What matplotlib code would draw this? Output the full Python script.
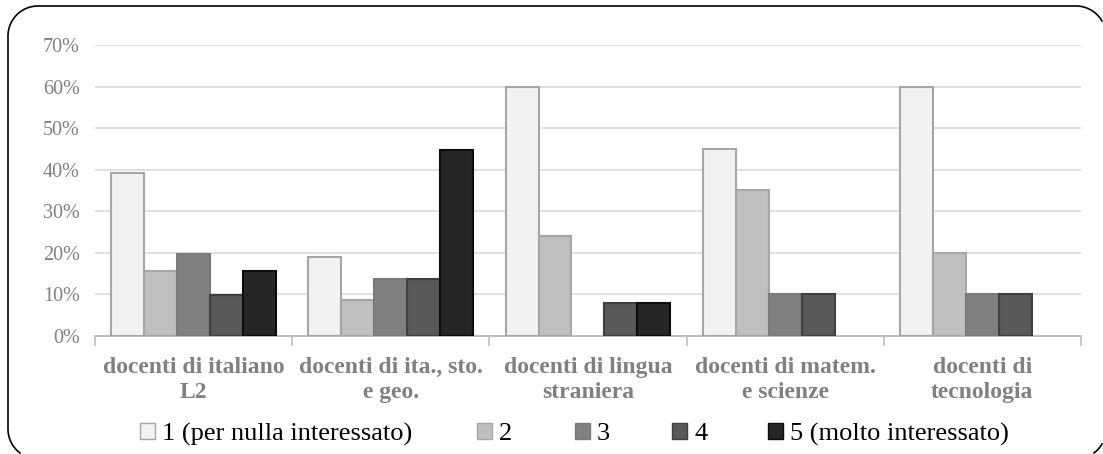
import numpy as np
import matplotlib.pyplot as plt
from matplotlib.lines import Line2D
from matplotlib.ticker import PercentFormatter

categories = ["docenti di italiano\nL2", "docenti di ita., sto.\ne geo.",
              "docenti di lingua\nstraniera", "docenti di matem.\ne scienze",
              "docenti di\ntecnologia"]
series = ["1 (per nulla interessato)", "2", "3", "4", "5 (molto interessato)"]
s1 = [39.2, 19.0, 60.0, 45.0, 60.0]
s2 = [15.7, 8.6, 24.0, 35.0, 20.0]
s3 = [19.6, 13.8, 0.0, 10.0, 10.0]
s4 = [9.8, 13.8, 8.0, 10.0, 10.0]
s5 = [15.7, 44.8, 8.0, 0.0, 0.0]
values = [s1, s2, s3, s4, s5]

fills = ["#f2f2f2", "#bfbfbf", "#808080", "#595959", "#262626"]
edges = ["#a6a6a6", "#a6a6a6", "#7a7a7a", "#3f3f3f", "#0d0d0d"]

plt.rcParams['font.family'] = ['Liberation Serif', 'DejaVu Serif']

W, H = 1103, 454
fig = plt.figure(figsize=(W / 100, H / 100), dpi=100)
ax = fig.add_axes([0.0861, 0.26, 0.8939, 0.641])

x = np.arange(len(categories))
w = 0.167
for i, vals in enumerate(values):
    v = np.array(vals) / 100
    lw = [1.5 if val > 0 else 0 for val in vals]
    ax.bar(x + (i - 2) * w, v, width=w, color=fills[i], edgecolor=edges[i],
           linewidth=lw, label=series[i], zorder=3)

ax.set_xlim(-0.5, len(categories) - 0.5)
ax.set_ylim(0, 0.7)
ax.set_yticks(np.arange(0, 0.71, 0.1))
ax.yaxis.set_major_formatter(PercentFormatter(1.0, decimals=0))
ax.grid(axis='y', color='#d9d9d9', linewidth=1.2, zorder=0)
ax.tick_params(axis='y', length=0, labelsize=14.5, labelcolor='#808080', pad=11)

ax.set_xticks(x)
ax.set_xticklabels(categories, fontsize=17, fontweight='bold', color='#808080',
                   linespacing=1.25)
ax.tick_params(axis='x', length=0, pad=15)
ax.set_xticks(np.arange(-0.5, len(categories)), minor=True)
ax.tick_params(axis='x', which='minor', length=7, color='#bfbfbf', width=1.2)

for sp in ['top', 'right', 'left']:
    ax.spines[sp].set_visible(False)
ax.spines['bottom'].set_color('#bfbfbf')
ax.spines['bottom'].set_linewidth(1.5)

# legend entries placed one by one, like the spread-out Excel legend
handles, labels = ax.get_legend_handles_labels()
leg_left = [140, 477, 575, 672, 768]
for h, l, px in zip(handles, labels, leg_left):
    lg = fig.legend(handles=[h], labels=[l], loc='center left',
                    bbox_to_anchor=(px / W, 0.044), frameon=False,
                    fontsize=19, borderpad=0, borderaxespad=0,
                    handlelength=0.57, handleheight=0.57, handletextpad=0.27)
    for hh in lg.legend_handles:
        hh.set_linewidth(1.0)

# rounded frame, partly cut off by the image edge (pixel coords, y up)
x0, x1, y0, y1, r = 8, 1106, -5, 448, 30
t = np.linspace(0, np.pi / 2, 40)
pts = []
for cx, cy, a0 in [(x1 - r, y1 - r, 0), (x0 + r, y1 - r, np.pi / 2),
                   (x0 + r, y0 + r, np.pi), (x1 - r, y0 + r, 1.5 * np.pi)]:
    pts += list(zip(cx + r * np.cos(a0 + t), cy + r * np.sin(a0 + t)))
pts.append(pts[0])
pts = np.array(pts)
inside = (pts[:, 0] <= W - 0.5) & (pts[:, 1] >= 0.5)
run = []
for p, ok in zip(pts, inside):
    if ok:
        run.append(p)
    elif run:
        if len(run) > 1:
            rr = np.array(run)
            fig.add_artist(Line2D(rr[:, 0] / W, rr[:, 1] / H, color='black',
                                  linewidth=1.2, transform=fig.transFigure))
        run = []
if len(run) > 1:
    rr = np.array(run)
    fig.add_artist(Line2D(rr[:, 0] / W, rr[:, 1] / H, color='black',
                          linewidth=1.2, transform=fig.transFigure))

fig.savefig("out.png", dpi=100)
